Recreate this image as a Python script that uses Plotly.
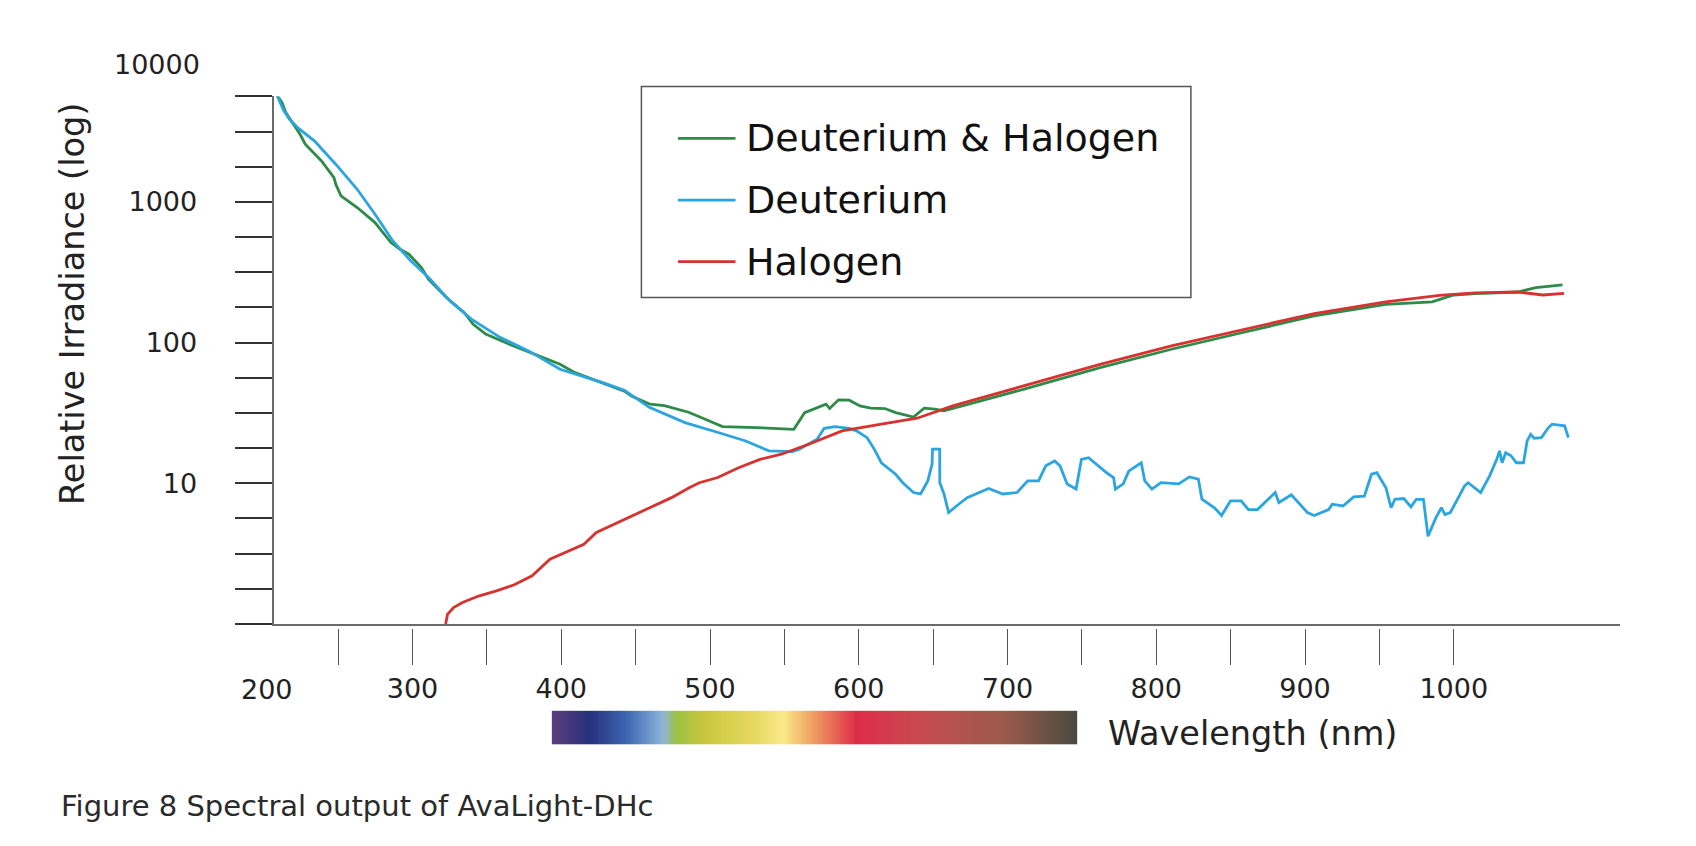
import plotly.graph_objects as go

W, H = 1696, 846

# ---------------- data ----------------
wl_dh = [208.8, 212.3, 214.8, 220.7, 224.4, 227.9, 238.8, 247.2, 248.4, 251.9, 262.8, 274.8,
         285.5, 291.6, 297.6, 306.0, 310.8, 322.8, 334.8, 340.8, 349.2, 363.6, 385.2, 399.2,
         409.2, 430.4, 442.9, 447.2, 459.7, 469.3, 485.6, 495.2, 508.4, 531.2, 556.4, 563.6,
         578.0, 580.4, 586.4, 593.6, 600.8, 608.0, 617.6, 624.8, 636.8, 644.0, 651.2, 657.3,
         711.2, 762.2, 775.6, 810.2, 858.2, 906.2, 954.3, 985.5, 999.9, 1014.3, 1043.1,
         1055.1, 1073.1]
irr_dh = [5754, 5082, 4315, 3467, 3027, 2570, 1954, 1489, 1337, 1104, 912, 713,
          514, 461, 425, 341, 282, 209, 163, 135, 115, 98.9, 80.4, 70.1,
          61.2, 50.6, 44.9, 41.8, 36.5, 35.6, 32.0, 29.0, 25.3, 24.9, 24.2, 31.8,
          36.5, 34.0, 39.2, 39.0, 35.5, 34.2, 34.0, 31.8, 29.6, 34.2, 33.7, 32.7,
          46.7, 66.4, 72.1, 89.7, 118, 155, 187, 195, 218, 223, 229,
          246, 257]

wl_d = [208.8, 213.5, 217.2, 223.2, 234.0, 248.4, 262.8, 274.8, 286.8, 298.8, 310.8, 325.2,
        339.6, 358.8, 378.0, 399.2, 427.9, 442.4, 459.2, 483.2, 507.2, 524.0, 539.6, 555.2,
        560.0, 572.0, 576.8, 584.0, 593.6, 598.4, 605.6, 610.4, 615.2, 624.8, 629.6, 636.8,
        641.6, 646.4, 649.3, 649.6, 654.4, 654.5, 657.3, 660.4, 665.7, 672.9, 687.3, 696.8,
        706.4, 713.6, 720.9, 725.7, 731.7, 735.3, 740.1, 746.1, 749.7, 754.5, 766.5, 771.3,
        772.5, 777.8, 781.5, 789.9, 792.3, 797.1, 803.1, 815.1, 822.3, 828.3, 830.7, 839.1,
        843.9, 849.9, 857.1, 862.0, 868.0, 880.0, 882.4, 890.8, 901.6, 906.2, 915.9, 918.3,
        925.5, 932.7, 939.9, 944.7, 948.3, 954.4, 957.9, 960.4, 966.4, 971.2, 974.8, 979.6,
        982.7, 988.0, 991.7, 994.1, 997.7, 1007.3, 1009.7, 1018.1, 1024.1, 1028.9, 1030.8,
        1032.5, 1034.9, 1038.5, 1042.1, 1046.9, 1049.3, 1051.7, 1054.1, 1058.9, 1063.7,
        1066.1, 1074.5, 1077.1]
irr_d = [5754, 4436, 3873, 3342, 2716, 1854, 1230, 818, 528, 381, 290, 198,
         147, 109, 87.3, 64.7, 52.0, 45.9, 34.7, 27.0, 22.7, 20.0, 17.0, 16.8,
         17.5, 20.6, 24.6, 25.3, 24.6, 23.6, 21.1, 17.5, 14.0, 11.6, 10.1, 8.6,
         8.4, 10.4, 13.7, 17.5, 17.5, 10.1, 8.4, 6.2, 6.9, 7.9, 9.2, 8.4,
         8.6, 10.4, 10.4, 13.3, 14.4, 13.3, 9.9, 9.1, 14.8, 15.2, 11.9, 11.0,
         9.1, 9.9, 12.2, 14.0, 10.4, 9.1, 10.1, 9.9, 11.1, 10.7, 7.7, 6.7,
         5.9, 7.5, 7.5, 6.5, 6.5, 8.6, 7.3, 8.3, 6.2, 5.9, 6.5, 7.1,
         6.9, 8.0, 8.1, 11.6, 11.9, 9.3, 6.7, 7.7, 7.8, 6.8, 7.7, 7.7,
         4.2, 5.7, 6.7, 6.0, 6.2, 9.6, 10.1, 8.6, 11.3, 14.8, 17.0,
         14.0, 16.5, 15.7, 14.0, 14.0, 20.0, 22.3, 20.9, 21.1, 24.9,
         26.3, 25.6, 21.1]

wl_h = [322.3, 323.5, 327.6, 333.6, 344.4, 356.4, 368.4, 380.4, 392.4, 402.1, 415.2, 423.6,
        435.6, 452.4, 474.1, 486.0, 492.8, 505.2, 519.2, 533.6, 548.0, 567.2, 588.8, 615.2,
        639.2, 663.2, 711.2, 762.2, 810.2, 858.2, 906.2, 954.3, 990.3, 1014.3, 1043.1,
        1059.9, 1074.2]
irr_h = [1.0, 1.17, 1.31, 1.42, 1.58, 1.72, 1.90, 2.20, 2.89, 3.22, 3.69, 4.47,
         5.12, 6.27, 7.91, 9.31, 10.1, 11.0, 12.9, 14.8, 16.1, 19.1, 23.6, 26.3,
         29.0, 35.5, 49.2, 70.1, 94.8, 124, 161, 195, 217, 226, 229,
         218, 224]

series_names = ["Deuterium & Halogen", "Deuterium", "Halogen"]
series_colors = ["#2e8b47", "#2aa5df", "#d7322f"]

x_tick_vals = [250, 300, 350, 400, 450, 500, 550, 600, 650, 700, 750, 800, 850, 900, 950, 1000]
x_tick_text = ["", "300", "", "400", "", "500", "", "600", "", "700", "", "800", "", "900", "", "1000"]
y_tick_vals = [1, 1.778, 3.162, 5.623, 10, 17.78, 31.62, 56.23, 100, 177.8, 316.2, 562.3,
               1000, 1778, 3162, 5623]
y_tick_text = ["", "", "", "", "10", "", "", "", "100", "", "", "", "1000", "", "", ""]

spectrum_stops = [(0.0, "#5b3f7d"), (0.07, "#27307c"), (0.14, "#3d66b2"), (0.21, "#8fb6dc"),
                  (0.235, "#9cc043"), (0.29, "#c9c83e"), (0.385, "#e8d862"), (0.44, "#fbe98a"),
                  (0.49, "#f0a864"), (0.58, "#de2c48"), (0.70, "#c84a50"), (0.86, "#9c5a4c"),
                  (1.0, "#4a4a40")]

# ---------------- helpers (pixel -> paper) ----------------
def px(x):
    return x / W


def py(y):
    return 1 - y / H


FONT = "DejaVu Sans"
x_left_px, x_right_px = 273.6, 1620.0
y_top_px, y_bot_px = 96.4, 624.0

fig = go.Figure()

for wl, irr, name, col in zip([wl_dh, wl_d, wl_h], [irr_dh, irr_d, irr_h], series_names, series_colors):
    fig.add_trace(go.Scatter(x=wl, y=irr, mode="lines", name=name,
                             line=dict(color=col, width=2.8), showlegend=False))

# invisible trace carrying the detached tick axis
fig.add_trace(go.Scatter(x=[300, 1000], y=[None, None], xaxis="x2", yaxis="y",
                         showlegend=False, hoverinfo="skip"))

# spectrum bar
n = 300
fig.add_trace(go.Heatmap(z=[list(range(n))], x=list(range(n)), y=[0], xaxis="x3", yaxis="y3",
                         colorscale=[[s, c] for s, c in spectrum_stops], showscale=False,
                         hoverinfo="skip", zsmooth="best"))

xr = [206.62, 1111.76]
fig.update_layout(
    width=W, height=H, margin=dict(l=0, r=0, t=0, b=0),
    paper_bgcolor="white", plot_bgcolor="white",
    font=dict(family=FONT, color="#222"),
    xaxis=dict(domain=[px(x_left_px), px(x_right_px)], range=xr, showline=True,
               linecolor="#6a6a6a", linewidth=2, showgrid=False, zeroline=False,
               ticks="", showticklabels=False, automargin=False),
    xaxis2=dict(overlaying="x", anchor="free", position=py(628), range=xr,
                showline=False, showgrid=False, zeroline=False,
                tickmode="array", tickvals=x_tick_vals, ticktext=x_tick_text,
                ticks="outside", ticklen=36, tickwidth=1, tickcolor="#555",
                tickfont=dict(size=27, color="#222", family=FONT), ticklabelstandoff=1,
                automargin=False),
    yaxis=dict(domain=[py(y_bot_px), py(y_top_px)], type="log", range=[0, 3.75],
               showline=True, linecolor="#6a6a6a", linewidth=2, showgrid=False, zeroline=False,
               tickmode="array", tickvals=y_tick_vals, ticktext=y_tick_text,
               ticks="outside", ticklen=37, tickwidth=1.5, tickcolor="#333",
               tickfont=dict(size=27, color="#222", family=FONT), ticklabelstandoff=32,
               automargin=False),
    xaxis3=dict(domain=[px(551.6), px(1077.3)], anchor="y3", visible=False,
                range=[-0.5, n - 0.5]),
    yaxis3=dict(domain=[py(744.5), py(710.6)], anchor="x3", visible=False, range=[-0.5, 0.5]),
)

ann = []
# 10000 label at the 10^4 level (above axis end)
ann.append(dict(text="10000", x=px(202), y=py(65), xref="paper", yref="paper",
                xanchor="right", yanchor="middle", showarrow=False,
                font=dict(size=27, color="#222", family=FONT)))
# 200 label
ann.append(dict(text="200", x=px(267), y=py(689), xref="paper", yref="paper",
                xanchor="center", yanchor="middle", showarrow=False,
                font=dict(size=27, color="#222", family=FONT)))
# y title
ann.append(dict(text="Relative Irradiance (log)", x=px(72), y=py(304), xref="paper", yref="paper",
                textangle=-90, xanchor="center", yanchor="middle", showarrow=False,
                font=dict(size=33.5, color="#222", family=FONT)))
# x title
ann.append(dict(text="Wavelength (nm)", x=px(1106), y=py(733), xref="paper", yref="paper",
                xanchor="left", yanchor="middle", showarrow=False,
                font=dict(size=33.5, color="#222", family=FONT)))
# caption
ann.append(dict(text="Figure 8 Spectral output of AvaLight-DHc", x=px(59), y=py(806),
                xref="paper", yref="paper", xanchor="left", yanchor="middle", showarrow=False,
                font=dict(size=29, color="#2a2a2a", family=FONT)))

shapes = []
# legend box
shapes.append(dict(type="rect", xref="paper", yref="paper", x0=px(641.4), x1=px(1190.9),
                   y0=py(297.4), y1=py(86.5), line=dict(color="#555", width=1.5),
                   fillcolor="white", layer="above"))
leg_y = [138.4, 200.1, 261.7]
for yy, name, col in zip(leg_y, series_names, series_colors):
    shapes.append(dict(type="line", xref="paper", yref="paper", x0=px(678), x1=px(735.5),
                       y0=py(yy), y1=py(yy), line=dict(color=col, width=2.8), layer="above"))
    ann.append(dict(text=name, x=px(744), y=py(yy), xref="paper", yref="paper",
                    xanchor="left", yanchor="middle", showarrow=False,
                    font=dict(size=38, color="#111", family=FONT)))

fig.update_layout(annotations=ann, shapes=shapes)
fig.write_html("out.html")
